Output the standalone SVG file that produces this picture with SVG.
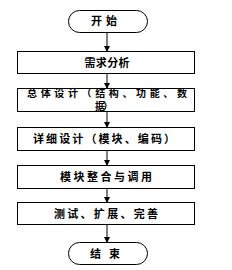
<svg xmlns="http://www.w3.org/2000/svg" width="232" height="270" viewBox="0 0 232 270">
<style>
.box{fill:#fff;stroke:#000;stroke-width:1}
.t{font-family:"Noto Sans CJK SC","Noto Sans",sans-serif;font-size:11px;font-weight:bold;fill:#000;text-anchor:middle}
.s{font-size:10px}
.c{stroke:#000;stroke-width:1;fill:none;marker-end:url(#ah)}
</style>
<defs>
<marker id="ah" markerWidth="6" markerHeight="6" refX="5" refY="3" orient="auto" markerUnits="userSpaceOnUse">
<path d="M0,0 L6,3 L0,6 Z" fill="#000"/>
</marker>
</defs>
<rect width="232" height="270" fill="#fff"/>
<g id="connectors">
<line class="c" x1="107" y1="32" x2="107" y2="51"/>
<line class="c" x1="107" y1="74" x2="107" y2="88"/>
<line class="c" x1="107" y1="112" x2="107" y2="127"/>
<line class="c" x1="107" y1="151" x2="107" y2="165"/>
<line class="c" x1="107" y1="189" x2="107" y2="202"/>
<line class="c" x1="107" y1="225" x2="107" y2="242"/>
</g>
<g id="start">
<rect class="box" x="68.5" y="10.5" width="79" height="22" rx="11" ry="11"/>
<text class="t" x="104" y="25" textLength="26" lengthAdjust="spacing">开始</text>
</g>
<g id="n1">
<rect class="box" x="17.5" y="51.5" width="177" height="22"/>
<text class="t" x="107" y="67" textLength="45" lengthAdjust="spacing">需求分析</text>
</g>
<g id="n2">
<rect class="box" x="17.5" y="88.5" width="177" height="23"/>
<text class="t s" x="107" y="96.5" textLength="160" lengthAdjust="spacing">总体设计（结构、功能、数</text>
<text class="t s" x="104" y="110" textLength="18" lengthAdjust="spacing">据）</text>
</g>
<g id="n3">
<rect class="box" x="17.5" y="127.5" width="177" height="23"/>
<text class="t" x="104" y="143" textLength="142" lengthAdjust="spacing">详细设计（模块、编码）</text>
</g>
<g id="n4">
<rect class="box" x="17.5" y="165.5" width="177" height="23"/>
<text class="t" x="106" y="181" textLength="92" lengthAdjust="spacing">模块整合与调用</text>
</g>
<g id="n5">
<rect class="box" x="17.5" y="202.5" width="177" height="22"/>
<text class="t" x="106" y="218" textLength="104" lengthAdjust="spacing">测试、扩展、完善</text>
</g>
<g id="end">
<rect class="box" x="68.5" y="242.5" width="79" height="22" rx="11" ry="11"/>
<text class="t" x="105" y="258" textLength="30" lengthAdjust="spacing">结束</text>
</g>
</svg>
